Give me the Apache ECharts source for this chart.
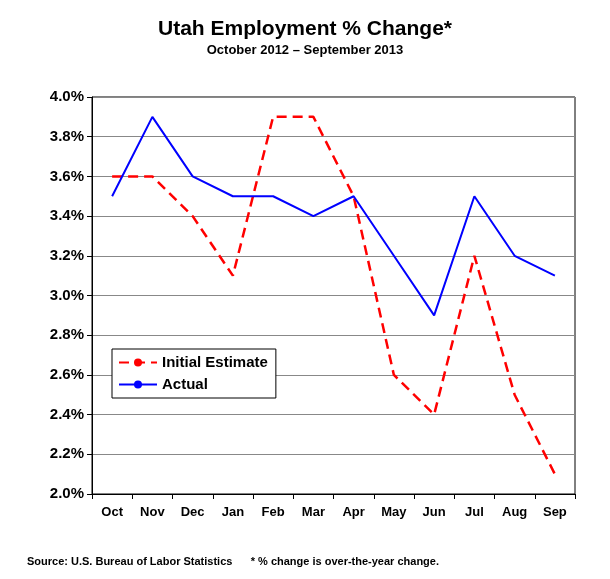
<!DOCTYPE html>
<html>
<head>
<meta charset="utf-8">
<script src="https://cdn.jsdelivr.net/npm/echarts@6/dist/echarts.min.js"></script>
<style>html,body{margin:0;padding:0;background:#fff}#c{width:610px;height:579px}</style>
</head>
<body>
<div id="c"></div>
<script>
const months = ["Oct", "Nov", "Dec", "Jan", "Feb", "Mar", "Apr", "May", "Jun", "Jul", "Aug", "Sep"];
const initialEstimate = [3.6, 3.6, 3.4, 3.1, 3.9, 3.9, 3.5, 2.6, 2.4, 3.2, 2.5, 2.1];
const actual = [3.5, 3.9, 3.6, 3.5, 3.5, 3.4, 3.5, 3.2, 2.9, 3.5, 3.2, 3.1];

const FONT = "Liberation Sans, Arial, sans-serif";
const chart = echarts.init(document.getElementById("c"), null, { renderer: "canvas" });

chart.setOption({
  animation: false,
  textStyle: { fontFamily: FONT },
  title: [
    {
      text: "Utah Employment % Change*",
      left: "center", top: 14,
      textStyle: { fontSize: 21, fontWeight: "bold", color: "#000", fontFamily: FONT },
      subtext: "October 2012 – September 2013",
      subtextStyle: { fontSize: 13, fontWeight: "bold", color: "#000", fontFamily: FONT },
      itemGap: 4
    },
    {
      text: "Source: U.S. Bureau of Labor Statistics      * % change is over-the-year change.",
      left: 22, top: 551,
      textStyle: { fontSize: 11, fontWeight: "bold", color: "#000", fontFamily: FONT }
    }
  ],
  legend: {
    orient: "vertical",
    left: 112, top: 349,
    backgroundColor: "#fff",
    borderColor: "#000", borderWidth: 1,
    padding: [6, 8, 6, 6],
    itemGap: 7,
    itemWidth: 38, itemHeight: 10,
    textStyle: { fontSize: 15, fontWeight: "bold", color: "#000", fontFamily: FONT },
    data: ["Initial Estimate", "Actual"]
  },
  grid: { left: 92, right: 35, top: 97, bottom: 85, show: true, borderColor: "#000", borderWidth: 1 },
  xAxis: {
    type: "category",
    data: months,
    boundaryGap: true,
    axisLine: { lineStyle: { color: "#000" } },
    axisTick: { show: true, lineStyle: { color: "#000" } },
    axisLabel: { fontSize: 13, fontWeight: "bold", color: "#000", margin: 12 }
  },
  yAxis: {
    type: "value",
    min: 2.0, max: 4.0, interval: 0.2,
    axisLine: { show: true, lineStyle: { color: "#000" } },
    axisTick: { show: true, lineStyle: { color: "#000" } },
    splitLine: { lineStyle: { color: "#888" } },
    axisLabel: {
      fontSize: 15, fontWeight: "bold", color: "#000", margin: 8,
      formatter: v => v.toFixed(1) + "%"
    }
  },
  series: [
    {
      name: "Initial Estimate", type: "line", data: initialEstimate,
      showSymbol: false, symbol: "none",
      lineStyle: { color: "#ff0000", width: 2.5, type: [10, 6] },
      itemStyle: { color: "#ff0000" }
    },
    {
      name: "Actual", type: "line", data: actual,
      showSymbol: false, symbol: "none",
      lineStyle: { color: "#0000ff", width: 2 },
      itemStyle: { color: "#0000ff" }
    }
  ]
});
</script>
</body>
</html>
